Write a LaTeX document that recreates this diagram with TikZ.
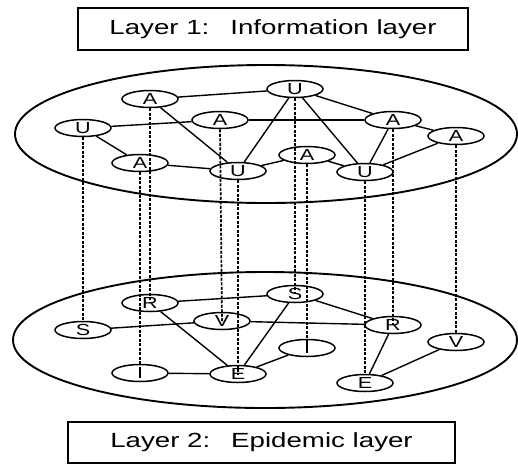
\documentclass[tikz,border=0pt]{standalone}
\usepackage{fontspec}
\setmainfont{Liberation Sans}[FakeStretch=1.35]
\usepackage{tikz}
\usetikzlibrary{shapes}

\begin{document}
\begin{tikzpicture}[x=1pt,y=-1pt,
    agent/.style={draw,ellipse,line width=1.5pt,minimum width=56pt,minimum height=17pt,inner sep=0pt,font=\fontsize{16}{16}\selectfont},
    link/.style={line width=1.4pt},
    couple/.style={line width=1.7pt,dash pattern=on 3pt off 1.5pt},
    layerbox/.style={draw,line width=1.3pt,inner sep=0pt,font=\fontsize{20.5}{22}\selectfont}]

    \useasboundingbox (0,0) rectangle (518,464);

    \node[layerbox,minimum width=390pt,minimum height=42pt] (title1) at (273,29) {Layer 1:\hspace{21pt}Information layer};
    \node[layerbox,minimum width=387pt,minimum height=41pt] (title2) at (261.5,442.5) {Layer 2:\hspace{21pt}Epidemic layer};

    \draw[line width=1.9pt] (266,134) ellipse [x radius=251pt, y radius=69pt];
    \draw[line width=1.9pt] (265,340) ellipse [x radius=252pt, y radius=68pt];

    \node[agent] (a1) at (150,99) {A};
    \node[agent] (u1) at (295,89) {U};
    \node[agent] (u2) at (83,128) {U};
    \node[agent] (a2) at (220,120) {A};
    \node[agent] (a3) at (393,120) {A};
    \node[agent] (a4) at (456,136) {A};
    \node[agent] (a5) at (140,163) {A};
    \node[agent] (u3) at (238,171) {U};
    \node[agent] (a6) at (307,155) {A};
    \node[agent] (u4) at (365,172) {U};

    \node[agent] (r1) at (150,303) {R};
    \node[agent] (s1) at (295,294) {S};
    \node[agent] (s2) at (83,330) {S};
    \node[agent] (v1) at (222,321) {V};
    \node[agent] (r2) at (393,325) {R};
    \node[agent] (v2) at (456,342) {V};
    \node[agent] (i1) at (307,348) {I};
    \node[agent] (i2) at (140,373) {I};
    \node[agent] (e1) at (238,374) {E};
    \node[agent] (e2) at (365,383) {E};

    \draw[link] (a1) -- (u1);
    \draw[link] (u1) -- (a3);
    \draw[link] (a3) -- (a4);
    \draw[link] (u2) -- (a2);
    \draw[link] (a2) -- (a3);
    \draw[link] (u2) -- (a5);
    \draw[link] (a5) -- (u3);
    \draw[link] (a1) -- (u3);
    \draw[link] (u3) -- (u1);
    \draw[link] (u1) -- (u4);
    \draw[link] (u3) -- (a6);
    \draw[link] (a6) -- (u4);
    \draw[link] (u4) -- (a3);
    \draw[link] (u4) -- (a4);

    \draw[link] (r1) -- (s1);
    \draw[link] (s1) -- (r2);
    \draw[link] (s2) -- (v1);
    \draw[link] (v1) -- (r2);
    \draw[link] (r1) -- (e1);
    \draw[link] (s1) -- (e1);
    \draw[link] (e1) -- (i1);
    \draw[link] (i2) -- (e1);
    \draw[link] (r2) -- (e2);
    \draw[link] (e2) -- (v2);

    \draw[couple] (u2.south) -- (s2.north);
    \draw[couple] (a5.south) -- (i2.north);
    \draw[couple] (a1.south) -- (r1.center);
    \draw[couple] (a2.south) -- (v1.center);
    \draw[couple] (u3.south) -- (e1.center);
    \draw[couple] (u1.south) -- (s1.center);
    \draw[couple] (a6.south) -- (i1.center);
    \draw[couple] (u4.south) -- (e2.north);
    \draw[couple] (a3.south) -- (r2.center);
    \draw[couple] (a4.south) -- (v2.north);
  \end{tikzpicture}
\end{document}
